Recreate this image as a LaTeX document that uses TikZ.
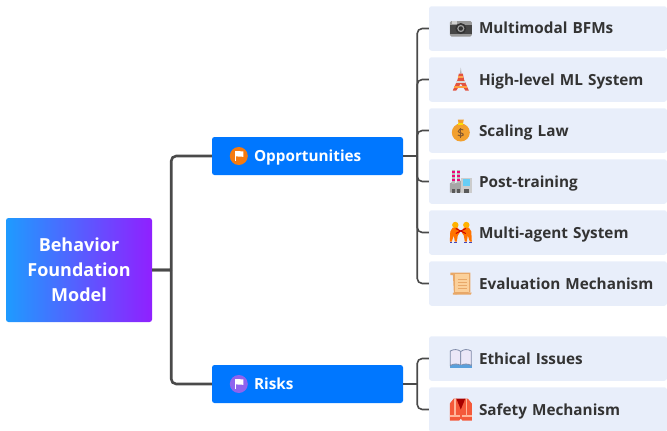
\documentclass[tikz,border=0pt]{standalone}
\usepackage{fontspec}
\setmainfont{Open Sans}
\definecolor{topicblue}{HTML}{0077FF}
\definecolor{leafblue}{HTML}{E8EEFA}
\definecolor{inkgray}{HTML}{333333}
\definecolor{linegray}{HTML}{4A4A4A}
\definecolor{rootleft}{HTML}{1E9BFF}
\definecolor{rootright}{HTML}{9020FF}
\definecolor{pagelilac}{HTML}{ECE8F8}
\definecolor{bookedge}{HTML}{7E8AA8}
\definecolor{bookblue}{HTML}{5AA0DC}
\definecolor{flagorange}{HTML}{F47A10}
\definecolor{flagpurple}{HTML}{8F63EE}
\definecolor{towerred}{HTML}{E2533F}
\definecolor{bagorange}{HTML}{F2A02E}
\definecolor{vestred}{HTML}{F4593A}
\definecolor{vestband}{HTML}{FFB59A}
\definecolor{paperpeach}{HTML}{FBD09A}
\definecolor{papertan}{HTML}{E8A868}
\tikzset{
	rootbox/.style={rounded corners=2.5pt,left color=rootleft,right color=rootright,text=white,
		minimum width=146pt,minimum height=104pt,align=center,font=\fontsize{18}{25}\selectfont\bfseries},
	topicbox/.style={rounded corners=2.5pt,fill=topicblue,text=white,inner xsep=0pt,
		text width=191pt,text height=11pt,text depth=0pt,minimum height=38pt,align=left,
		execute at begin node={\hspace*{42pt}},
		font=\fontsize{15.3}{18}\selectfont\bfseries},
	leafbox/.style={rounded corners=2.5pt,fill=leafblue,text=inkgray,inner xsep=0pt,
		text width=238pt,text height=11pt,text depth=0pt,minimum height=44.5pt,align=left,
		execute at begin node={\hspace*{50pt}},
		font=\fontsize{15.3}{18}\selectfont\bfseries},
	flagicon/.pic={
		\fill[white] (-3.5,-5) rectangle (-2.6,5);
		\fill[white] (-2.6,5) .. controls (0,6) and (1,3.6) .. (4.5,4.6) -- (4.5,-0.8) .. controls (1,-1.8) and (0,0.6) .. (-2.6,-0.4) -- cycle;
	},
	camera/.pic={
		\fill[gray!80,rounded corners=1.5pt] (-11,-8) rectangle (11,7.5);
		\fill[gray!55!black] (-11,-5) rectangle (11,4);
		\fill[gray!35] (-9,5) rectangle (-4,7.5);
		\fill[gray!40!black] (0,0) circle (5.5);
		\fill[gray!75] (0,0) circle (3.6);
		\fill[gray!40!black] (0,0) circle (2.2);
	},
	tower/.pic={
		\fill[gray!60] (-0.8,6) -- (0,12) -- (0.8,6) -- cycle;
		\fill[towerred] (-2,6) -- (2,6) -- (3.2,0) -- (8,-11) -- (4.5,-11) -- (0,-4) -- (-4.5,-11) -- (-8,-11) -- (-3.2,0) -- cycle;
		\fill[orange!70] (-2.6,2) rectangle (2.6,4);
		\fill[gray!30] (-4.5,-3) rectangle (4.5,-1.5);
		\fill[orange!75] (-6.5,-8) rectangle (6.5,-6.5);
	},
	moneybag/.pic={
		\fill[bagorange] (-3,11) -- (3,11) -- (2,6) -- (-2,6) -- cycle;
		\fill[bagorange] (0,-2) circle (9);
		\fill[yellow!80!orange] (-2.5,6) rectangle (2.5,7.5);
		\draw[brown!70!black,line width=1pt] (2.5,0.5) .. controls (0,2) and (-3,1) .. (-2.5,-1) .. controls (-2,-3) and (3,-2) .. (2.5,-4.5) .. controls (2,-6) and (-1,-6) .. (-3,-4.5);
		\draw[brown!70!black,line width=0.8pt] (0,2.5) -- (0,-7);
	},
	factory/.pic={
		\fill[gray!70] (-11,-11) -- (-11,-2) -- (-6,1) -- (-6,-2) -- (0,1) -- (0,-11) -- cycle;
		\fill[gray!55] (-8.5,-2) rectangle (-6,12);
		\fill[gray!55] (-3.5,-1) rectangle (-1,12);
		\foreach \chimy in {9,5,1}{
			\fill[magenta!80!red] (-8.5,\chimy) rectangle (-6,\chimy+2);
			\fill[magenta!80!red] (-3.5,\chimy) rectangle (-1,\chimy+2);
		}
		\fill[gray!40] (0,-11) rectangle (11,4);
		\fill[cyan!60] (2,-4) rectangle (9,2.5);
		\fill[gray!70!black] (-9,-11) rectangle (-6,-7.5);
		\fill[gray!70!black] (-3.5,-11) rectangle (-0.5,-7.5);
		\fill[gray!70!black] (3,-11) rectangle (8,-7.5);
	},
	wrestlers/.pic={
		\foreach \sidex in {-1,1}{
			\fill[orange!60!yellow] (\sidex*5.5,7.5) circle (3.2);
			\fill[orange!90!red] (\sidex*10.5,1) -- (\sidex*8,5) -- (\sidex*3,5) -- (\sidex*1,0) -- (\sidex*3,-3) -- (\sidex*4,-9) -- (\sidex*6,-9) -- (\sidex*7,-3) -- (\sidex*9,-9) -- (\sidex*11,-9) -- cycle;
			\fill[blue!45!gray] (\sidex*3.5,-10.5) rectangle (\sidex*6.5,-9);
			\fill[blue!45!gray] (\sidex*8.5,-10.5) rectangle (\sidex*11,-9);
		}
		\draw[red!80!black,line width=1pt] (-5,4) -- (5,-1);
		\draw[red!80!black,line width=1pt] (5,4) -- (-5,-1);
	},
	scroll/.pic={
		\fill[papertan] (-8,11) -- (-10.5,11) -- (-10.5,8.5) -- (-7,8.5) -- cycle;
		\fill[papertan] (-8,11) -- (9.5,11) -- (9.5,-9) -- (-6,-11) -- (-7,-8) -- cycle;
		\fill[papertan] (-8,-9) -- (11,-9) -- (10,-11) -- (-8,-11) -- cycle;
		\fill[paperpeach] (-6,10) rectangle (8.5,-8);
		\foreach \liney in {4,1,-2,-5}{
			\fill[papertan] (-3,\liney) rectangle (6,\liney+0.9);
		}
	},
	openbook/.pic={
		\fill[bookblue] (-11,-9) rectangle (11,-5);
		\filldraw[fill=pagelilac,draw=bookedge,line width=0.8pt] (-10.5,7.5) .. controls (-7,9.5) and (-3,9.5) .. (0,7) -- (0,-7) .. controls (-3,-5) and (-7,-5) .. (-10.5,-7) -- cycle;
		\filldraw[fill=pagelilac,draw=bookedge,line width=0.8pt] (10.5,7.5) .. controls (7,9.5) and (3,9.5) .. (0,7) -- (0,-7) .. controls (3,-5) and (7,-5) .. (10.5,-7) -- cycle;
		\fill[bookblue] (-0.7,-9) rectangle (0.7,-6);
	},
	safetyvest/.pic={
		\fill[vestred] (-11,-11) -- (-11,6) -- (-7,11) -- (-4,11) -- (0,2) -- (4,11) -- (7,11) -- (11,6) -- (11,-11) -- (1.5,-11) -- (0,-9) -- (-1.5,-11) -- cycle;
		\fill[red!65!black] (-4.5,11) -- (4.5,11) -- (0,0) -- cycle;
		\fill[vestband] (-11,-7.5) rectangle (-1,-5.5);
		\fill[vestband] (1,-7.5) rectangle (11,-5.5);
		\fill[vestband] (-6.5,-5.5) -- (-6.5,11) -- (-5.2,11) -- (-5.2,-5.5) -- cycle;
		\fill[vestband] (6.5,-5.5) -- (6.5,11) -- (5.2,11) -- (5.2,-5.5) -- cycle;
	}
}
\begin{document}
\begin{tikzpicture}[
	x=1pt,y=1pt,
	grow'=right,
	level 1/.style={level distance=228.5pt,sibling distance=228pt,
		edge from parent/.style={draw=linegray,line width=2.6pt,rounded corners=5pt},
		edge from parent path={(\tikzparentnode.east) -- ++(19,0) ++(0,0) |- (\tikzchildnode.west)}},
	level 2/.style={level distance=240.5pt,sibling distance=51pt,
		edge from parent/.style={draw=linegray,line width=1.6pt,rounded corners=5pt},
		edge from parent path={(\tikzparentnode.east) -- ++(14,0) ++(0,0) |- (\tikzchildnode.west)}}
	]
	\useasboundingbox (0,0) rectangle (667,-431);
	\node[rootbox] (bfm) at (79,-270) {Behavior\\Foundation\\Model}
	child {node[topicbox] (opp) {Opportunities}
		child {node[leafbox] (multimodal) {Multimodal BFMs}}
		child {node[leafbox] (highlevel) {High-level ML System}}
		child {node[leafbox] (scaling) {Scaling Law}}
		child {node[leafbox] (posttrain) {Post-training}}
		child {node[leafbox] (multiagent) {Multi-agent System}}
		child {node[leafbox] (evaluation) {Evaluation Mechanism}}
	}
	child {node[topicbox] (risks) {Risks}
		child {node[leafbox] (ethical) {Ethical Issues}}
		child {node[leafbox] (safety) {Safety Mechanism}}
	}
	;
	% flags and icons
	\fill[flagorange] ([xshift=27pt]opp.west) circle (9);
	\pic at ([xshift=27pt]opp.west) {flagicon};
	\fill[flagpurple] ([xshift=27pt]risks.west) circle (9);
	\pic at ([xshift=27pt]risks.west) {flagicon};
	\pic at ([xshift=32pt]multimodal.west) {camera};
	\pic at ([xshift=32pt]highlevel.west) {tower};
	\pic at ([xshift=32pt]scaling.west) {moneybag};
	\pic at ([xshift=32pt]posttrain.west) {factory};
	\pic at ([xshift=32pt]multiagent.west) {wrestlers};
	\pic at ([xshift=32pt]evaluation.west) {scroll};
	\pic at ([xshift=32pt]ethical.west) {openbook};
	\pic at ([xshift=32pt]safety.west) {safetyvest};
\end{tikzpicture}
\end{document}
